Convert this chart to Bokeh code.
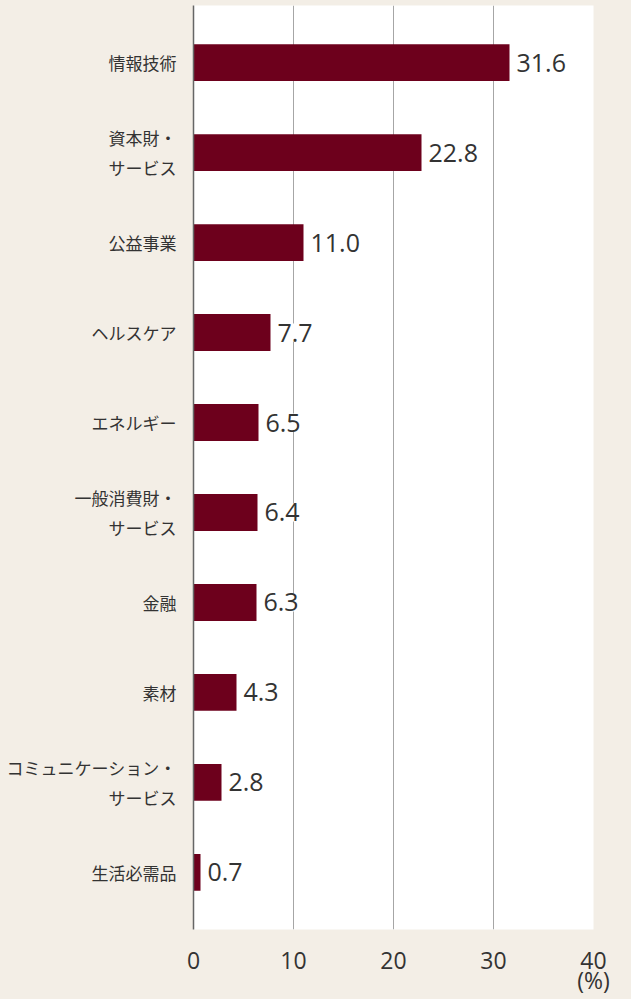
from bokeh.plotting import figure
from bokeh.models import Range1d, FactorRange, FixedTicker, ColumnDataSource
from bokeh.embed import file_html
from bokeh.resources import INLINE
from bokeh.core.properties import value

categories = ["情報技術", "資本財・\nサービス", "公益事業", "ヘルスケア", "エネルギー",
              "一般消費財・\nサービス", "金融", "素材", "コミュニケーション・\nサービス", "生活必需品"]
values = [31.6, 22.8, 11.0, 7.7, 6.5, 6.4, 6.3, 4.3, 2.8, 0.7]
x_ticks = [0, 10, 20, 30, 40]
x_tick_labels = {0: "0", 10: "10", 20: "20", 30: "30", 40: "40\n(%)"}
value_labels = [f"{v:.1f}" for v in values]

BG = "#f3eee6"
BAR = "#6d001c"
TXT = "#333333"

src = ColumnDataSource(dict(cat=categories, val=values, lab=value_labels))

p = figure(width=631, height=999, output_backend="svg", toolbar_location=None,
           y_range=FactorRange(factors=categories[::-1], range_padding=0.027),
           x_range=Range1d(0, 40),
           min_border_left=193, min_border_right=38, min_border_top=5, min_border_bottom=64)
p.outline_line_color = None
p.background_fill_color = "white"
p.border_fill_color = BG

p.ygrid.grid_line_color = None
p.xgrid.ticker = FixedTicker(ticks=x_ticks[1:])
p.xgrid.grid_line_color = "#a6a6a6"
p.xgrid.grid_line_width = 1

p.hbar(y="cat", left=0, right="val", height=0.41, source=src, color=BAR, line_color=None)
p.text(x="val", y="cat", text="lab", source=src, x_offset=7, text_baseline="middle",
       text_align="left", text_font_size="25px", text_color=TXT,
       text_font=value("Open Sans"), background_fill_color="white")

p.xaxis.ticker = FixedTicker(ticks=x_ticks)
p.xaxis.major_label_overrides = x_tick_labels
p.xaxis.axis_line_color = None
p.xaxis.major_tick_line_color = None
p.xaxis.minor_tick_line_color = None
p.xaxis.major_tick_out = 0
p.xaxis.major_label_standoff = 14
p.xaxis.major_label_text_font_size = "23px"
p.xaxis.major_label_text_line_height = 0.65
p.xaxis.major_label_text_font = "Open Sans"
p.xaxis.major_label_text_color = TXT

p.yaxis.axis_line_color = "#666666"
p.yaxis.axis_line_width = 1.5
p.yaxis.major_tick_line_color = None
p.yaxis.major_tick_out = 0
p.yaxis.major_label_standoff = 17
p.yaxis.major_label_text_font_size = "17px"
p.yaxis.major_label_text_font = "Noto Sans CJK JP"
p.yaxis.major_label_text_color = TXT

html = file_html(p, INLINE, title="chart")
html = html.replace("<head>", "<head><style>html,body{background:#f3eee6;}</style>", 1)
open("out.html", "w").write(html)
